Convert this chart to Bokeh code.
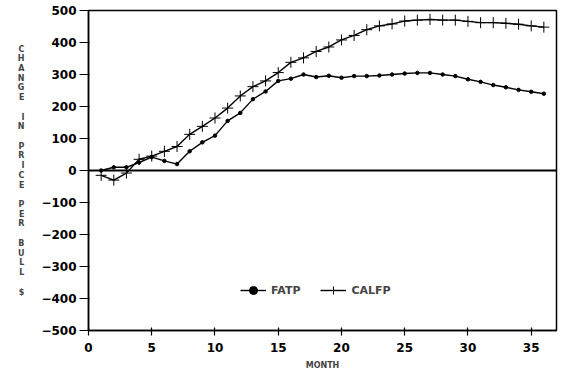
from bokeh.plotting import figure
from bokeh.models import Span, Legend, LegendItem, FixedTicker
from bokeh.embed import file_html
from bokeh.resources import INLINE

months = list(range(1, 37))
fatp = [0, 10, 10, 25, 42, 30, 20, 60, 88, 109, 155, 180, 223, 247, 280, 287,
        300, 292, 296, 290, 295, 295, 297, 300, 303, 305, 305, 300, 295, 285,
        277, 267, 260, 252, 246, 240]
calfp = [-15, -30, -8, 35, 45, 60, 75, 113, 138, 164, 195, 233, 262, 280, 306, 338,
         352, 372, 386, 408, 422, 440, 452, 458, 467, 470, 472, 470, 470, 466,
         462, 462, 460, 457, 452, 448]
x_ticks = [0, 5, 10, 15, 20, 25, 30, 35]
y_ticks = list(range(-500, 501, 100))
y_label = "C\nH\nA\nN\nG\nE\n\nI\nN\n\nP\nR\nI\nC\nE\n\nP\nE\nR\n\nB\nU\nL\nL\n\n$"

FONT = "DejaVu Sans"

p = figure(width=564, height=377, x_range=(0, 37), y_range=(-500, 500),
           output_backend="svg", toolbar_location=None,
           min_border_left=88, min_border_right=8, min_border_top=10, min_border_bottom=47)
p.xgrid.visible = False
p.ygrid.visible = False
p.outline_line_color = "black"
p.outline_line_width = 1.5
p.background_fill_color = "white"

for ax in (p.xaxis, p.yaxis):
    ax.axis_line_width = 1.5
    ax.major_tick_line_width = 1.2
    ax.minor_tick_line_color = None
    ax.major_label_text_font = FONT
    ax.major_label_text_font_style = "bold"
    ax.major_label_text_font_size = "12px"
    ax.major_label_text_color = "black"

p.xaxis.ticker = FixedTicker(ticks=x_ticks)
p.yaxis.ticker = FixedTicker(ticks=y_ticks)
p.xaxis.major_tick_in = 3
p.xaxis.major_tick_out = 5
p.yaxis.major_tick_in = 1
p.yaxis.major_tick_out = 9
p.xaxis.major_label_standoff = 7
p.yaxis.major_label_standoff = 3
p.xaxis.axis_label = "MONTH"
p.xaxis.axis_label_text_font = FONT
p.xaxis.axis_label_text_font_style = "bold"
p.xaxis.axis_label_text_font_size = "8px"
p.xaxis.axis_label_standoff = 6

p.yaxis.axis_label = y_label
p.yaxis.axis_label_orientation = "horizontal"
p.yaxis.axis_label_text_font = FONT
p.yaxis.axis_label_text_font_style = "bold"
p.yaxis.axis_label_text_font_size = "8px"
p.yaxis.axis_label_text_line_height = 1.08
p.yaxis.axis_label_standoff = 14

zero = Span(location=0, dimension="width", line_color="black", line_width=2)
p.add_layout(zero)

l1 = p.line(months, fatp, line_color="black", line_width=1.4)
m1 = p.scatter(months, fatp, marker="circle", size=3.5, color="black")
l2 = p.line(months, calfp, line_color="black", line_width=1.4)
m2 = p.scatter(months, calfp, marker="cross", size=11, line_color="black", line_width=1)

legend = Legend(items=[LegendItem(label="FATP", renderers=[l1, m1]),
                       LegendItem(label="CALFP", renderers=[l2, m2])],
                orientation="horizontal", location=(152, 30),
                border_line_color=None, background_fill_alpha=0,
                label_text_font=FONT, label_text_font_style="bold",
                label_text_font_size="11px", glyph_width=26, spacing=20,
                label_standoff=5)
p.add_layout(legend)

open("out.html", "w").write(file_html(p, INLINE))
